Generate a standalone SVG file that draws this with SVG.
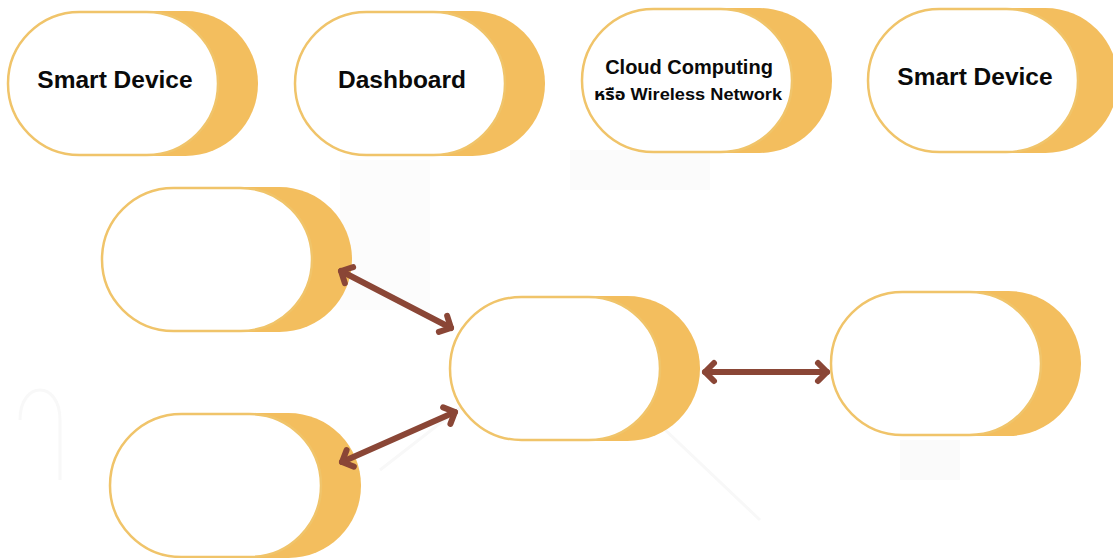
<svg xmlns="http://www.w3.org/2000/svg" width="1113" height="558" viewBox="0 0 1113 558">
<defs>
<style>
.back{fill:#F3BE5E;}
.front{fill:#FFFFFF;stroke:#F0C46A;stroke-width:2.5;}
.lbl{font-family:"Liberation Sans",Arial,sans-serif;font-weight:bold;fill:#0A0A0A;text-anchor:middle;}
.conn{stroke:#8A4636;stroke-width:6;stroke-linecap:round;fill:none;marker-start:url(#ah);marker-end:url(#ah);}
</style>
<marker id="ah" viewBox="-14 -14 28 28" markerWidth="28" markerHeight="28" markerUnits="userSpaceOnUse" refX="0" refY="0" orient="auto-start-reverse">
<path d="M-9,-9 L0,0 L-9,9" fill="none" stroke="#8A4636" stroke-width="6" stroke-linecap="round" stroke-linejoin="round"/>
</marker>
</defs>
<rect width="1113" height="558" fill="#FFFFFF"/>
<g id="bg" fill="none" stroke="#F8F8F8" stroke-width="3">
<rect x="340" y="160" width="90" height="150" fill="#FCFCFC" stroke="none"/>
<rect x="570" y="150" width="140" height="40" fill="#FBFBFB" stroke="none"/>
<path d="M380,470 L560,330 L760,520"/>
<path d="M20,420 C20,380 60,380 60,420 L60,480"/>
<rect x="900" y="440" width="60" height="40" fill="#FAFAFA" stroke="none"/>
</g>
<g id="n1">
<rect class="back" x="50" y="11" width="208" height="145" rx="72.5"/>
<rect class="front" x="8" y="12" width="210" height="143" rx="71.5"/>
<text class="lbl" x="115" y="88" font-size="24.5">Smart Device</text>
</g>
<g id="n2">
<rect class="back" x="337" y="11" width="208" height="145" rx="72.5"/>
<rect class="front" x="295" y="12" width="210" height="143" rx="71.5"/>
<text class="lbl" x="402" y="88" font-size="24.5">Dashboard</text>
</g>
<g id="n3">
<rect class="back" x="624" y="8" width="208" height="145" rx="72.5"/>
<rect class="front" x="582" y="9" width="210" height="143" rx="71.5"/>
<text class="lbl" x="689" y="74" font-size="20">Cloud Computing</text>
<text class="lbl" x="688" y="100" font-size="16" textLength="188" lengthAdjust="spacingAndGlyphs" style="font-family:'Liberation Sans','Noto Sans Thai','Noto Sans',sans-serif">หรือ Wireless Network</text>
</g>
<g id="n4">
<rect class="back" x="910" y="8" width="208" height="145" rx="72.5"/>
<rect class="front" x="868" y="9" width="210" height="143" rx="71.5"/>
<text class="lbl" x="975" y="85" font-size="24.5">Smart Device</text>
</g>
<g id="n5">
<rect class="back" x="144" y="187" width="208" height="145" rx="72.5"/>
<rect class="front" x="102" y="188" width="210" height="143" rx="71.5"/>
</g>
<g id="n6">
<rect class="back" x="492" y="296" width="208" height="145" rx="72.5"/>
<rect class="front" x="450" y="297" width="210" height="143" rx="71.5"/>
</g>
<g id="n7">
<rect class="back" x="873" y="291" width="208" height="145" rx="72.5"/>
<rect class="front" x="831" y="292" width="210" height="143" rx="71.5"/>
</g>
<g id="n8">
<rect class="back" x="153" y="413" width="208" height="145" rx="72.5"/>
<rect class="front" x="110" y="414" width="211" height="143" rx="71.5"/>
</g>
<g id="connectors">
<line class="conn" x1="341" y1="271" x2="451" y2="328"/>
<line class="conn" x1="342" y1="462" x2="455" y2="412"/>
<line class="conn" x1="705" y1="372" x2="827" y2="372"/>
</g>
</svg>
